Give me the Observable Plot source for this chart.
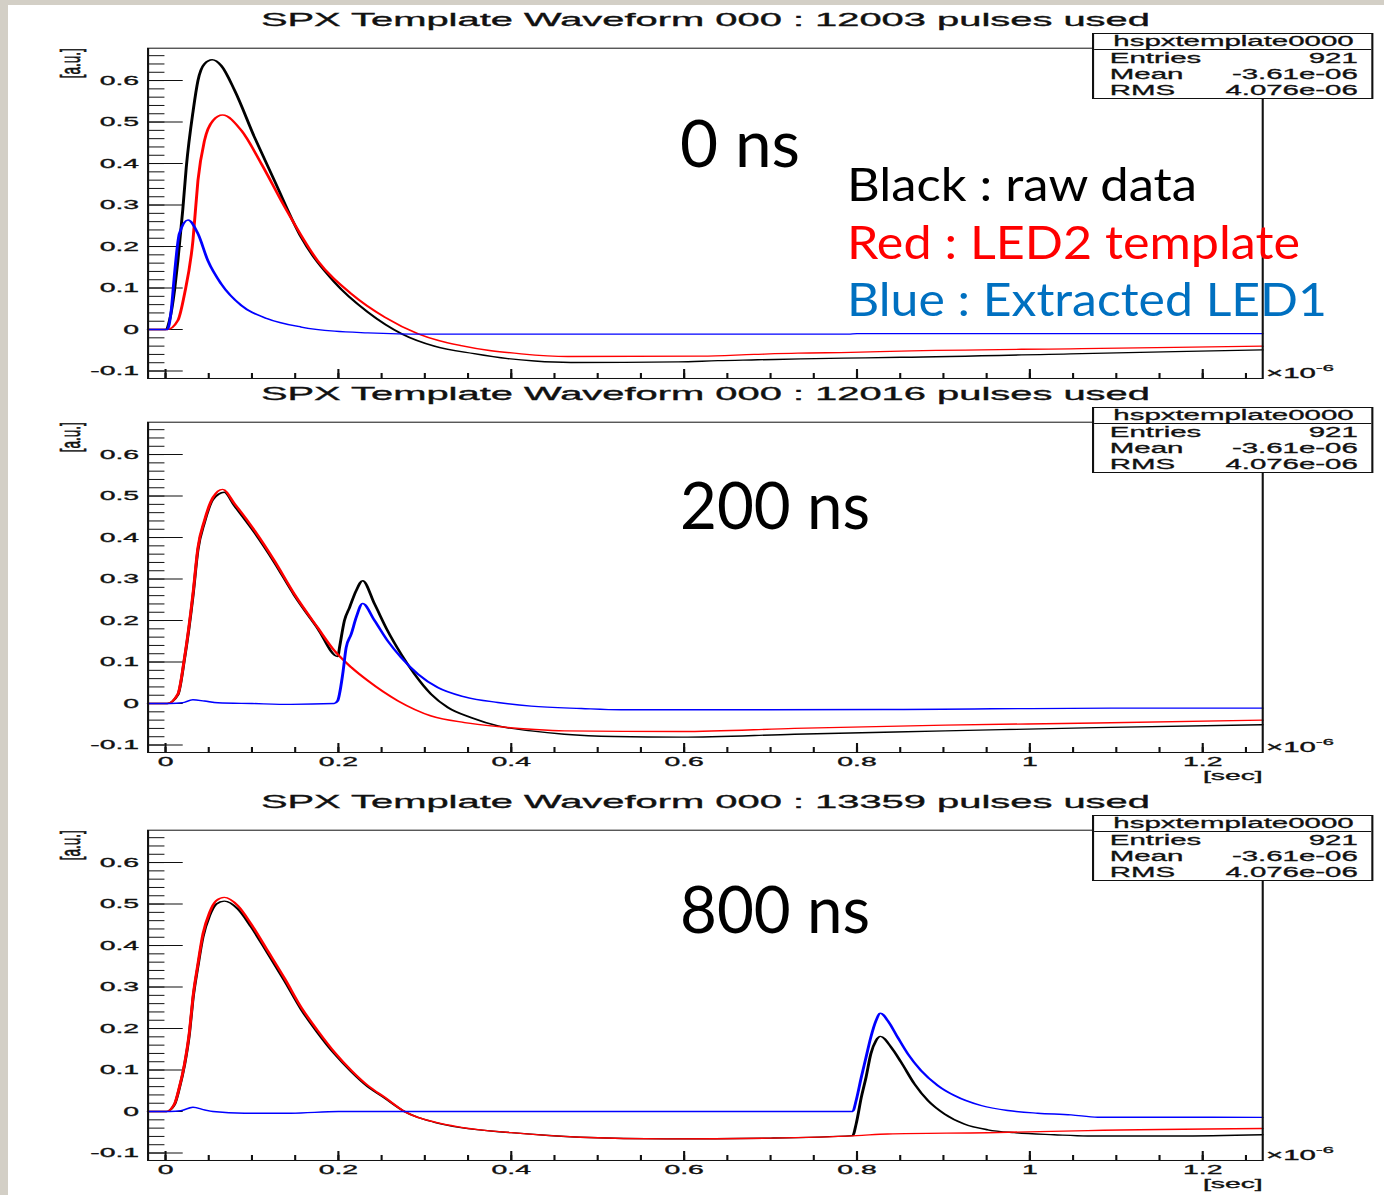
<!DOCTYPE html>
<html lang="en">
<head>
<meta charset="utf-8">
<title>SPX template waveforms</title>
<script src="https://cdn.jsdelivr.net/npm/d3@7"></script>
<script src="https://cdn.jsdelivr.net/npm/@observablehq/plot@0.6"></script>
<style>
  html, body { margin: 0; padding: 0; background: #d3cfc6; }
  #page { position: relative; width: 1384px; height: 1195px; overflow: hidden; background: #d3cfc6; }
  #sheet { position: absolute; left: 8px; top: 5px; right: 0; bottom: 0; background: #fff; }
  .panel { position: absolute; left: 0; transform-origin: 0 0; }
  .panel svg { display: block; }
  .panel svg text { stroke: #111; stroke-width: 0.35px; }
  .stats { position: absolute; box-sizing: border-box; background: #fff; border: 1px solid #111;
           font-family: "Liberation Sans", Arial, sans-serif; font-size: 14px; color: #111;
           -webkit-text-stroke: 0.3px #111; }
  .stats .head { position: absolute; left: 0; right: 0; top: 0; height: 15.6px; line-height: 15.6px;
                 border-bottom: 1px solid #111; text-align: center; }
  .stats .row { position: absolute; left: 7px; right: 6.7px; height: 16px; line-height: 16px;
                display: flex; justify-content: space-between; }
  #notes { position: absolute; left: 0; top: 0; }
</style>
</head>
<body>
<div id="page"><div id="sheet"></div></div>
<script>
// ---- waveform samples: [time (×10⁻⁶ s), amplitude (a.u.)] ----

// LED1 → LED2 delay 0 ns
const raw0ns = [
  [-0.02, 0], [0, 0], [0.0046, 0.022], [0.0104, 0.094], [0.0143, 0.166], [0.020, 0.290],
  [0.024, 0.391], [0.032, 0.528], [0.0375, 0.600], [0.045, 0.640], [0.054, 0.650],
  [0.0644, 0.636], [0.080, 0.576], [0.103, 0.463], [0.126, 0.359], [0.157, 0.222],
  [0.1955, 0.114], [0.234, 0.042], [0.273, -0.010], [0.311, -0.040], [0.357, -0.058],
  [0.396, -0.070], [0.427, -0.076], [0.469, -0.0795], [0.593, -0.078], [0.639, -0.075],
  [0.685, -0.073], [0.735, -0.0707], [0.785, -0.069], [0.851, -0.067], [1.06, -0.058],
  [1.269, -0.049]
];
const led2Template0ns = [
  [-0.02, 0], [0.002, 0], [0.0143, 0.022], [0.022, 0.086], [0.0317, 0.214], [0.0375, 0.359],
  [0.045, 0.455], [0.055, 0.504], [0.066, 0.517], [0.0876, 0.480], [0.111, 0.399],
  [0.138, 0.295], [0.176, 0.166], [0.215, 0.086], [0.2535, 0.030], [0.292, -0.010],
  [0.342, -0.039], [0.4115, -0.0586], [0.4655, -0.065], [0.62, -0.064], [0.681, -0.060],
  [0.7315, -0.057], [0.793, -0.055], [0.851, -0.052], [1.06, -0.046], [1.269, -0.040]
];
const led1Extracted0ns = [
  [-0.02, 0], [0.002, 0], [0.0066, 0.046], [0.0104, 0.134], [0.016, 0.231], [0.026, 0.264],
  [0.0375, 0.231], [0.049, 0.166], [0.0644, 0.110], [0.0876, 0.058], [0.118, 0.026],
  [0.157, 0.006], [0.1955, -0.004], [0.234, -0.008], [0.30, -0.011], [0.79, -0.011],
  [0.80, -0.010], [1.269, -0.010]
];

// delay 200 ns
const raw200ns = [
  [-0.02, 0], [0.002, 0], [0.0143, 0.021], [0.022, 0.108], [0.0317, 0.258], [0.0375, 0.370],
  [0.045, 0.436], [0.055, 0.492], [0.068, 0.509], [0.080, 0.476], [0.103, 0.412],
  [0.126, 0.340], [0.149, 0.261], [0.176, 0.181], [0.1994, 0.113], [0.2013, 0.135],
  [0.207, 0.200], [0.213, 0.232], [0.2206, 0.272], [0.228, 0.296], [0.2418, 0.240],
  [0.257, 0.175], [0.2726, 0.119], [0.288, 0.071], [0.307, 0.023], [0.3267, -0.0096],
  [0.3536, -0.034], [0.3845, -0.054], [0.423, -0.066], [0.4615, -0.074], [0.519, -0.0795],
  [0.5965, -0.081], [0.7275, -0.074], [0.902, -0.066], [1.0766, -0.058], [1.269, -0.051]
];
const led2Template200ns = [
  [-0.02, 0], [0.002, 0], [0.0143, 0.023], [0.022, 0.111], [0.0317, 0.264], [0.0375, 0.376],
  [0.045, 0.441], [0.055, 0.497], [0.066, 0.516], [0.080, 0.481], [0.103, 0.417],
  [0.126, 0.344], [0.149, 0.264], [0.176, 0.183], [0.1955, 0.127], [0.215, 0.087],
  [0.234, 0.055], [0.2688, 0.0065], [0.307, -0.0297], [0.346, -0.046], [0.3845, -0.0555],
  [0.423, -0.062], [0.4615, -0.066], [0.5965, -0.0675], [0.7275, -0.060], [0.902, -0.052],
  [1.0766, -0.047], [1.269, -0.040]
];
const led1Extracted200ns = [
  [-0.02, 0], [0.005, 0], [0.020, 0.002], [0.0317, 0.009], [0.045, 0.006], [0.0606, 0.002],
  [0.10, 0], [0.145, -0.002], [0.195, 0], [0.199, 0.006], [0.205, 0.071], [0.209, 0.135],
  [0.2148, 0.167], [0.2206, 0.2075], [0.228, 0.241], [0.2418, 0.200], [0.257, 0.151],
  [0.2726, 0.111], [0.292, 0.071], [0.315, 0.0386], [0.346, 0.016], [0.3845, 0.0024],
  [0.423, -0.0063], [0.481, -0.012], [0.527, -0.015], [0.83, -0.0145], [1.094, -0.011],
  [1.269, -0.011]
];

// delay 800 ns
const raw800ns = [
  [-0.02, 0], [0.001, 0], [0.0104, 0.017], [0.016, 0.056], [0.022, 0.112], [0.0278, 0.190],
  [0.0317, 0.270], [0.0375, 0.350], [0.0433, 0.420], [0.051, 0.472], [0.0586, 0.500],
  [0.068, 0.507], [0.0837, 0.488], [0.099, 0.445], [0.118, 0.382], [0.138, 0.314],
  [0.157, 0.246], [0.176, 0.190], [0.1955, 0.139], [0.215, 0.096], [0.234, 0.060],
  [0.2533, 0.033], [0.2765, 0], [0.3115, -0.026], [0.342, -0.039], [0.40, -0.051],
  [0.48, -0.062], [0.58, -0.066], [0.70, -0.064], [0.795, -0.058], [0.799, -0.030],
  [0.805, 0.0345], [0.8105, 0.083], [0.816, 0.139], [0.822, 0.171], [0.827, 0.181],
  [0.8395, 0.155], [0.851, 0.119], [0.8664, 0.0667], [0.882, 0.0265], [0.901, -0.0056],
  [0.924, -0.030], [0.9513, -0.044], [0.982, -0.051], [1.028, -0.056], [1.067, -0.059],
  [1.17, -0.059], [1.269, -0.056]
];
const led2Template800ns = [
  [-0.02, 0], [0.001, 0], [0.0104, 0.0185], [0.016, 0.0586], [0.022, 0.115], [0.0278, 0.195],
  [0.0317, 0.275], [0.0375, 0.356], [0.0433, 0.428], [0.051, 0.480], [0.0586, 0.508],
  [0.068, 0.516], [0.0837, 0.496], [0.099, 0.452], [0.118, 0.388], [0.138, 0.320],
  [0.157, 0.251], [0.176, 0.195], [0.1955, 0.143], [0.215, 0.099], [0.234, 0.0627],
  [0.2533, 0.0345], [0.2765, 0], [0.3115, -0.0257], [0.342, -0.038], [0.40, -0.051],
  [0.48, -0.062], [0.58, -0.066], [0.70, -0.064], [0.80, -0.058], [0.8356, -0.054],
  [0.951, -0.051], [1.067, -0.046], [1.269, -0.041]
];
const led1Extracted800ns = [
  [-0.02, 0], [0.005, 0], [0.018, 0.002], [0.0317, 0.0104], [0.045, 0.004], [0.055, 0],
  [0.0914, -0.004], [0.145, -0.004], [0.20, 0], [0.795, 0], [0.799, 0.0265], [0.805, 0.083],
  [0.8105, 0.131], [0.816, 0.179], [0.822, 0.219], [0.827, 0.237], [0.8356, 0.219],
  [0.847, 0.179], [0.8588, 0.139], [0.874, 0.099], [0.8935, 0.0627], [0.9127, 0.0386],
  [0.9435, 0.0145], [0.9744, 0.0024], [1.009, -0.004], [1.0477, -0.008], [1.0785, -0.0137],
  [1.269, -0.014]
];

// ---- labels ----
const delayLabels = ["0 ns", "200 ns", "800 ns"];
const pulsesUsed = [12003, 12016, 13359];
const histName = "hspxtemplate0000";
const statsLabels = ["Entries", "Mean", "RMS"];
const statsValues = ["921", "-3.61e-06", "4.076e-06"];
const legendText = ["Black : raw data", "Red : LED2 template", "Blue : Extracted LED1"];
const yMajorTicks = [-0.1, 0, 0.1, 0.2, 0.3, 0.4, 0.5, 0.6];
const xMajorTicks = [0, 0.2, 0.4, 0.6, 0.8, 1, 1.2];
const yMinorTicks = d3.range(-10, 67, 2).map(k => k / 100);
const xMinorTicks = d3.range(0, 126, 5).map(k => k / 100);

// ---- layout of the (horizontally stretched) ROOT canvas ----
const S = 2.1;                       // horizontal stretch of each canvas
const W0 = 1384 / S;                 // canvas width before stretching
const FRAME_L = 147 / S, FRAME_R = 1261.7 / S;
const FRAME_T = 47.7, FRAME_B = 378;
const innerW = FRAME_R - FRAME_L, innerH = FRAME_B - FRAME_T;
const INK = "#111";
const FONT = "'Liberation Sans', Arial, Helvetica, sans-serif";
const colors = {raw: "#000000", template: "#ff0000", extracted: "#0000ff"};

const panels = [
  {top: 0,   height: 382, xLabels: false, raw: raw0ns,   template: led2Template0ns,   extracted: led1Extracted0ns,   pulses: pulsesUsed[0]},
  {top: 374, height: 412, xLabels: true,  raw: raw200ns, template: led2Template200ns, extracted: led1Extracted200ns, pulses: pulsesUsed[1]},
  {top: 782, height: 412, xLabels: true,  raw: raw800ns, template: led2Template800ns, extracted: led1Extracted800ns, pulses: pulsesUsed[2]}
];

const fmtY = d => d === 0 ? "0" : d.toFixed(1);
const fmtX = d => d === 0 ? "0" : String(+d.toFixed(1));
const page = document.getElementById("page");

function drawPanel(p) {
  const line = (data, color) =>
    Plot.line(data, {x: d => d[0], y: d => d[1], stroke: color, strokeWidth: 1.4, curve: "monotone-x"});

  const marks = [
    Plot.tickY(yMinorTicks, {y: d => d, insetRight: innerW - 8.3, stroke: INK}),
    Plot.tickY(yMajorTicks, {y: d => d, insetRight: innerW - 17, stroke: INK}),
    Plot.tickX(xMinorTicks, {x: d => d, insetTop: innerH - 5, stroke: INK}),
    Plot.tickX(xMajorTicks, {x: d => d, insetTop: innerH - 9, stroke: INK}),
    Plot.axisY(yMajorTicks, {tickSize: 0, tickPadding: 4.3, fontSize: 13.5, tickFormat: fmtY, label: null}),
    line(p.raw, colors.raw),
    line(p.template, colors.template),
    line(p.extracted, colors.extracted),
    Plot.frame({stroke: INK}),
    Plot.text([`SPX Template Waveform 000 : ${p.pulses} pulses used`],
      {frameAnchor: "top", dy: 19 - FRAME_T, lineAnchor: "middle", fontSize: 19, text: d => d}),
    Plot.text(["[a.u.]"],
      {frameAnchor: "top-left", rotate: -90, textAnchor: "end", lineAnchor: "middle",
       dx: 33.1 - FRAME_L, fontSize: 13.5, text: d => d}),
    Plot.text(["\u00d710"],
      {frameAnchor: "bottom-right", textAnchor: "start", lineAnchor: "middle", dx: 1.6, dy: -5, fontSize: 14, text: d => d}),
    Plot.text(["-6"],
      {frameAnchor: "bottom-right", textAnchor: "start", lineAnchor: "middle", dx: 25.4, dy: -11, fontSize: 9.5, text: d => d})
  ];
  if (p.xLabels) {
    marks.push(
      Plot.axisX(xMajorTicks, {tickSize: 0, tickPadding: 4, fontSize: 13.5, tickFormat: fmtX, label: null}),
      Plot.text(["[sec]"],
        {frameAnchor: "bottom-right", textAnchor: "end", lineAnchor: "middle", dy: 23.5, fontSize: 13.5, text: d => d})
    );
  }

  const svg = Plot.plot({
    width: W0,
    height: p.height,
    marginLeft: FRAME_L,
    marginRight: W0 - FRAME_R,
    marginTop: FRAME_T,
    marginBottom: p.height - FRAME_B,
    x: {type: "linear", domain: [-0.0202, 1.2694], axis: p.xLabels ? undefined : null},
    y: {type: "linear", domain: [-0.118, 0.678]},
    style: {background: "transparent", overflow: "visible", fontFamily: FONT, color: INK},
    marks
  });

  const wrap = document.createElement("div");
  wrap.className = "panel";
  wrap.style.top = p.top + "px";
  wrap.style.width = W0 + "px";
  wrap.style.height = p.height + "px";
  wrap.style.transform = `scaleX(${S})`;
  wrap.appendChild(svg);

  // statistics box in the top-right corner of the pad
  const box = document.createElement("div");
  box.className = "stats";
  box.style.left = (1093 / S) + "px";
  box.style.top = "32.7px";
  box.style.width = ((1374 - 1093) / S) + "px";
  box.style.height = "66.6px";
  const head = document.createElement("div");
  head.className = "head";
  head.textContent = histName;
  box.appendChild(head);
  statsLabels.forEach((lab, i) => {
    const row = document.createElement("div");
    row.className = "row";
    row.style.top = (16.8 + 16 * i) + "px";
    const a = document.createElement("span"); a.textContent = lab;
    const b = document.createElement("span"); b.textContent = statsValues[i];
    row.appendChild(a); row.appendChild(b);
    box.appendChild(row);
  });
  wrap.appendChild(box);
  page.appendChild(wrap);
}

panels.forEach(drawPanel);

// ---- slide annotations (not stretched) ----
const notes = d3.select("#page").append("svg")
  .attr("id", "notes").attr("width", 1384).attr("height", 1195)
  .style("font-family", "Lato, 'Noto Sans', sans-serif");

const delayBaselines = [167, 529, 933];
const delayWidths = [120, 190, 190];
notes.selectAll("text.delay").data(delayLabels).join("text")
  .attr("class", "delay")
  .attr("x", 680).attr("y", (d, i) => delayBaselines[i])
  .attr("font-size", 66).attr("fill", "#000")
  .attr("textLength", (d, i) => delayWidths[i]).attr("lengthAdjust", "spacingAndGlyphs")
  .text(d => d);

const legendColors = ["#000000", "#ff0000", "#0070c0"];
const legendBaselines = [201, 259, 316];
const legendWidths = [350, 453, 480];
notes.selectAll("text.legend").data(legendText).join("text")
  .attr("class", "legend")
  .attr("x", 847).attr("y", (d, i) => legendBaselines[i])
  .attr("font-size", 47).attr("fill", (d, i) => legendColors[i])
  .attr("textLength", (d, i) => legendWidths[i]).attr("lengthAdjust", "spacingAndGlyphs")
  .text(d => d);
</script>
</body>
</html>
